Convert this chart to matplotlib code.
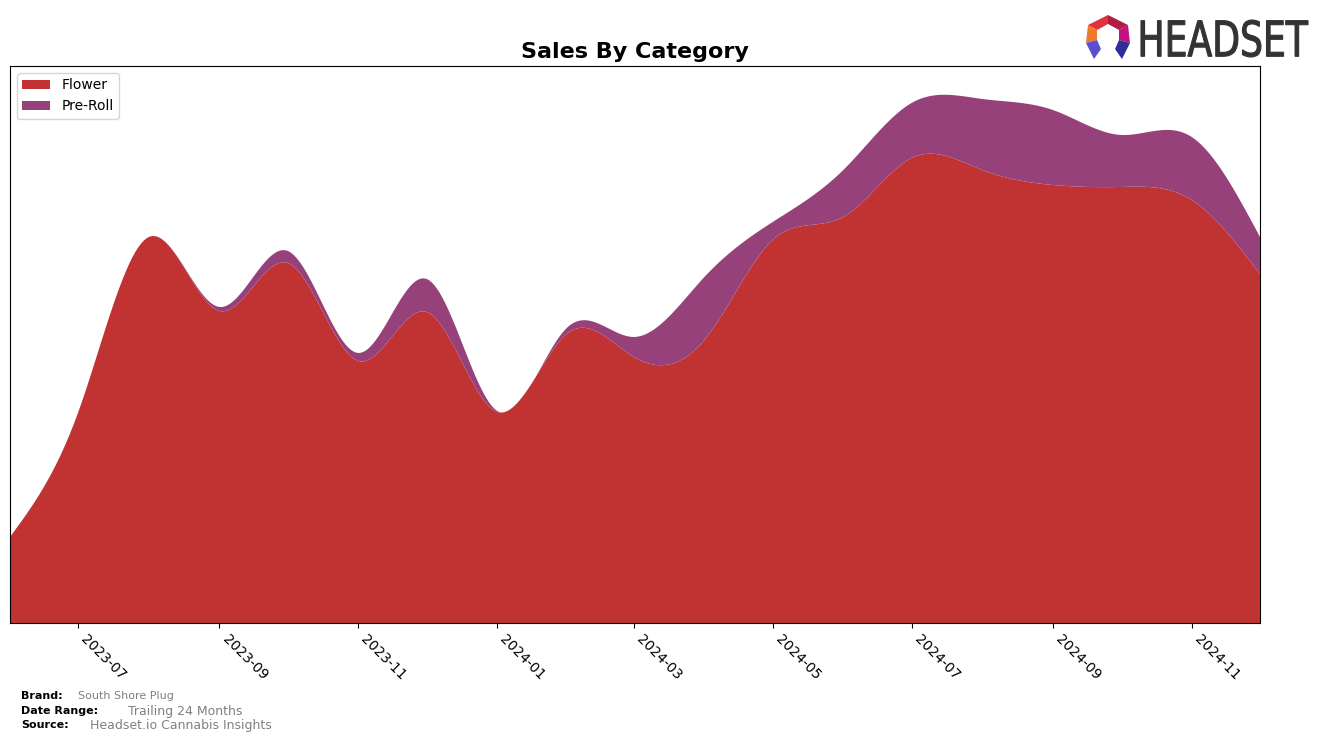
import numpy as np
import pandas as pd
import matplotlib
matplotlib.use("Agg")
import matplotlib.pyplot as plt
import matplotlib.dates as mdates
from matplotlib.textpath import TextPath
from matplotlib.patches import PathPatch, Polygon
from matplotlib.font_manager import FontProperties
from matplotlib.transforms import Affine2D

months = pd.date_range("2023-06-01", "2024-12-01", freq="MS")
flower = [86, 211, 386, 312, 360, 262, 311, 211, 290, 266, 283, 383, 406, 465, 453, 438, 436, 423, 349]
pre_roll = [0, 0, 0, 4, 12, 8, 33, 1, 6, 20, 63, 18, 47, 55, 71, 75, 52, 63, 37]
categories = ["Flower", "Pre-Roll"]
colors = ["#c13333", "#96417a"]


def natural_spline(x, y, xs):
    x = np.asarray(x, float)
    y = np.asarray(y, float)
    n = len(x)
    h = np.diff(x)
    A = np.zeros((n, n))
    b = np.zeros(n)
    A[0, 0] = A[-1, -1] = 1
    for i in range(1, n - 1):
        A[i, i - 1] = h[i - 1]
        A[i, i] = 2 * (h[i - 1] + h[i])
        A[i, i + 1] = h[i]
        b[i] = 3 * ((y[i + 1] - y[i]) / h[i] - (y[i] - y[i - 1]) / h[i - 1])
    c = np.linalg.solve(A, b)
    idx = np.clip(np.searchsorted(x, xs) - 1, 0, n - 2)
    dx = xs - x[idx]
    bb = (y[idx + 1] - y[idx]) / h[idx] - h[idx] * (2 * c[idx] + c[idx + 1]) / 3
    d = (c[idx + 1] - c[idx]) / (3 * h[idx])
    return y[idx] + bb * dx + c[idx] * dx ** 2 + d * dx ** 3


x_num = mdates.date2num(months)
xs = np.linspace(x_num[0], x_num[-1], 600)
flower_s = np.clip(natural_spline(x_num, flower, xs), 0, None)
pre_s = np.clip(natural_spline(x_num, pre_roll, xs), 0, None)

fig = plt.figure(figsize=(13.24, 7.42), dpi=100)
ax = fig.add_axes([0.00755, 0.1604, 0.9441, 0.7507])
ax.stackplot(mdates.num2date(xs), flower_s, pre_s, labels=categories, colors=colors)
ax.set_xlim(months[0], months[-1])
ax.set_ylim(0, 557)
ax.set_yticks([])
ax.xaxis.set_major_locator(mdates.MonthLocator(bymonth=[1, 3, 5, 7, 9, 11]))
ax.xaxis.set_major_formatter(mdates.DateFormatter("%Y-%m"))
plt.setp(ax.get_xticklabels(), rotation=-45, ha="left", fontsize=10)
ax.set_title("Sales By Category", fontsize=16, fontweight="bold", pad=6)
ax.legend(loc="upper left", fontsize=10)

# footer
fig.text(21 / 1324, 1 - 696 / 742, "Brand:", fontsize=8, fontweight="bold", va="center")
fig.text(78 / 1324, 1 - 696 / 742, "South Shore Plug", fontsize=8, color="gray", va="center")
fig.text(21 / 1324, 1 - 711 / 742, "Date Range:", fontsize=8, fontweight="bold", va="center")
fig.text(128 / 1324, 1 - 711 / 742, "Trailing 24 Months", fontsize=9, color="gray", va="center")
fig.text(21 / 1324, 1 - 725 / 742, "Source:", fontsize=8, fontweight="bold", va="center")
fig.text(90 / 1324, 1 - 725 / 742, "Headset.io Cannabis Insights", fontsize=9, color="gray", va="center")

# logo text, squeezed into its box (pixel coords, origin bottom-left)
H = 742
tp = TextPath((0, 0), "HEADSET", size=1, prop=FontProperties(family="DejaVu Sans"))
bb = tp.get_extents()
x0, x1, ytop, ybot = 1141, 1308, 20, 57
tr = Affine2D().translate(-bb.x0, -bb.y0).scale((x1 - x0) / bb.width, (ybot - ytop) / bb.height).translate(x0, H - ybot)
fig.patches.append(PathPatch(tr.transform_path(tp), facecolor="#333333", edgecolor="#333333",
                             linewidth=0.8, transform=None))

# logo icon
cx, cy = 1108, H - 37
icon = [
    ([(cx - 20, cy + 12), (cx, cy + 22), (cx, cy + 13), (cx - 11, cy + 7)], "#e0313c"),
    ([(cx, cy + 22), (cx + 20, cy + 12), (cx + 11, cy + 7), (cx, cy + 13)], "#b01d40"),
    ([(cx - 20, cy + 12), (cx - 11, cy + 7), (cx - 11, cy - 3), (cx - 22, cy - 6)], "#f07a2a"),
    ([(cx + 20, cy + 12), (cx + 22, cy - 6), (cx + 11, cy - 3), (cx + 11, cy + 7)], "#c0137f"),
    ([(cx - 22, cy - 6), (cx - 11, cy - 3), (cx - 7, cy - 12), (cx - 14, cy - 22)], "#5a4fd0"),
    ([(cx + 22, cy - 6), (cx + 14, cy - 22), (cx + 7, cy - 12), (cx + 11, cy - 3)], "#2c2f9a"),
]
for poly, col in icon:
    fig.patches.append(Polygon(poly, closed=True, facecolor=col, edgecolor="none", transform=None))

fig.savefig("out.png", dpi=100)
